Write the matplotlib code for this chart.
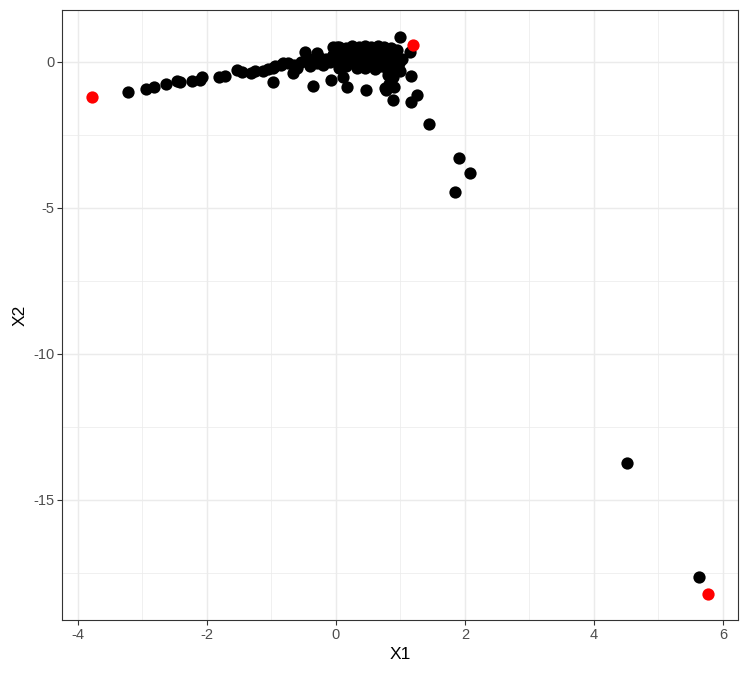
import matplotlib
matplotlib.use("Agg")
import matplotlib.pyplot as plt

plt.rcParams["font.family"] = ["Liberation Sans", "DejaVu Sans"]
plt.rcParams["axes.unicode_minus"] = False

# puntos negros (X1, X2)
x_negro = [
    -3.22, -2.95, -2.82, -2.63, -2.47, -2.42, -2.24, -2.08, -2.11, -1.82, -1.72,
    -1.54, -1.45, -1.31, -1.13, -0.97, -0.97, -0.82, -0.67, -0.48, -0.35, -0.30,
    -0.08, 0.11, 0.17, 0.01, 0.46, 0.76, 0.89, 0.99, 1.15, 1.17, 1.17, 1.26, 1.44,
    1.91, 2.08, 1.84, 4.51, 5.63,
    # nube central
    -1.25, -1.05, -0.95, -0.85, -0.75, -0.65, -0.55, -0.60, -0.45, -0.40, -0.35,
    -0.30, -0.25, -0.20, -0.15, -0.10, -0.05,
    -0.05, 0.05, 0.15, 0.25, 0.35, 0.45, 0.55, 0.65, 0.75, 0.85, 0.95,
    -0.05, 0.05, 0.15, 0.25, 0.35, 0.45, 0.55, 0.65, 0.75, 0.85, 0.95,
    0.00, 0.10, 0.20, 0.30, 0.40, 0.50, 0.60, 0.70, 0.80, 0.90, 0.98,
    0.05, 0.15, 0.32, 0.45, 0.60, 0.70, 0.80, 0.92,
    0.80, 0.85, 0.82, 0.90, 0.78, 0.88, 1.00, 1.02,
]
y_negro = [
    -1.02, -0.94, -0.85, -0.75, -0.65, -0.70, -0.65, -0.53, -0.62, -0.50, -0.48,
    -0.27, -0.33, -0.37, -0.31, -0.68, -0.22, -0.04, -0.38, 0.35, -0.81, 0.30,
    -0.62, -0.50, -0.85, 0.52, -0.96, -0.90, -1.30, 0.87, 0.35, -0.47, -1.36, -1.13, -2.12,
    -3.29, -3.80, -4.45, -13.73, -17.64,
    -0.30, -0.25, -0.15, -0.12, -0.05, -0.10, 0.00, -0.20, 0.05, -0.15, 0.10,
    -0.05, 0.15, -0.10, 0.10, 0.00, 0.25,
    0.50, 0.52, 0.48, 0.55, 0.50, 0.55, 0.52, 0.55, 0.50, 0.48, 0.40,
    0.25, 0.30, 0.28, 0.30, 0.32, 0.30, 0.28, 0.30, 0.32, 0.25, 0.15,
    0.05, 0.00, 0.10, 0.05, 0.00, 0.08, 0.05, 0.00, 0.05, 0.00, -0.05,
    -0.20, -0.15, -0.22, -0.20, -0.25, -0.15, -0.30, -0.20,
    -0.45, -0.60, -0.75, -0.85, -0.95, -0.50, -0.30, 0.10,
]

# puntos rojos
x_rojo = [-3.79, 1.20, 5.77]
y_rojo = [-1.21, 0.58, -18.22]

fig = plt.figure(figsize=(7.48, 6.75), dpi=100)
ax = fig.add_axes([62 / 748, 55 / 675, 676 / 748, 610 / 675])

ax.scatter(x_negro, y_negro, s=78, color="black", linewidths=0, zorder=3)
ax.scatter(x_rojo, y_rojo, s=78, color="red", linewidths=0, zorder=4)

ax.set_xticks([-4, -2, 0, 2, 4, 6])
ax.set_yticks([-15, -10, -5, 0])
ax.set_xticks([-3, -1, 1, 3, 5], minor=True)
ax.set_yticks([-17.5, -12.5, -7.5, -2.5], minor=True)
ax.set_xlim(-4.248, 6.233)
ax.set_ylim(-19.11, 1.78)
ax.grid(which="major", color="#EBEBEB", lw=1.07, zorder=0)
ax.grid(which="minor", color="#EBEBEB", lw=0.53, zorder=0)
ax.set_axisbelow(True)
ax.tick_params(which="major", length=3.5, width=0.8, color="#333333",
               labelsize=10.5, labelcolor="#4D4D4D", pad=2)
ax.tick_params(which="minor", length=0)
for s in ax.spines.values():
    s.set_color("#333333")
    s.set_linewidth(0.8)

ax.set_xlabel("X1", fontsize=12.5, labelpad=4)
ax.set_ylabel("X2", fontsize=12.5, labelpad=4)

fig.savefig("out.png", dpi=100)
